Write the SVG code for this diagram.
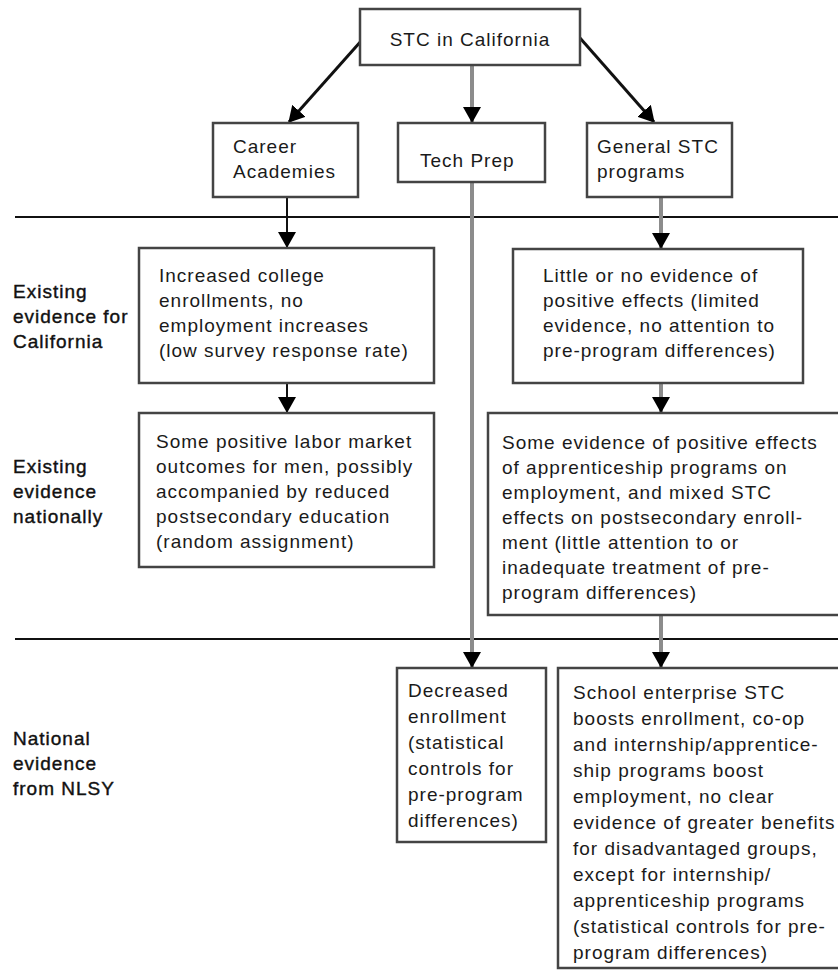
<svg xmlns="http://www.w3.org/2000/svg" width="838" height="971" viewBox="0 0 838 971">
<style>
  .box { fill: #fff; stroke: #444; stroke-width: 2.5; }
  .t { font-family: "Liberation Sans", Arial, sans-serif; font-size: 19px; letter-spacing: 1px; fill: #1a1a1a; }
  .lab { font-family: "Liberation Sans", Arial, sans-serif; font-size: 19px; letter-spacing: 1px; fill: #111; stroke: #111; stroke-width: 0.4; }
  .blk { stroke: #111; stroke-width: 2; fill: none; }
  .diag { stroke: #111; stroke-width: 3; fill: none; }
  .gry { stroke: #8c8c8c; stroke-width: 4; fill: none; }
  .rule { stroke: #111; stroke-width: 2; }
</style>
<defs>
  <marker id="ah" viewBox="0 0 16 18" refX="15" refY="9" markerWidth="16" markerHeight="18" orient="auto" markerUnits="userSpaceOnUse">
    <path d="M0,0 L16,9 L0,18 z" fill="#000"/>
  </marker>
</defs>
<rect width="838" height="971" fill="#fff"/>

<g id="rules">
  <line class="rule" x1="15" y1="217" x2="838" y2="217"/>
  <line class="rule" x1="15" y1="639" x2="838" y2="639"/>
</g>

<g id="connectors">
  <line class="diag" x1="362" y1="40" x2="289" y2="122" marker-end="url(#ah)"/>
  <line class="gry" x1="472" y1="65" x2="472" y2="122" marker-end="url(#ah)"/>
  <line class="diag" x1="580" y1="38" x2="654" y2="122" marker-end="url(#ah)"/>
  <line class="blk" x1="287" y1="197" x2="287" y2="247" marker-end="url(#ah)"/>
  <line class="blk" x1="287" y1="383" x2="287" y2="412" marker-end="url(#ah)"/>
  <line class="gry" x1="472" y1="182" x2="472" y2="667" marker-end="url(#ah)"/>
  <line class="gry" x1="661" y1="197" x2="661" y2="248" marker-end="url(#ah)"/>
  <line class="gry" x1="661" y1="383" x2="661" y2="412" marker-end="url(#ah)"/>
  <line class="gry" x1="661" y1="615" x2="661" y2="667" marker-end="url(#ah)"/>
</g>

<g id="labels">
  <text class="lab" x="13" y="298"><tspan x="13" y="298">Existing</tspan><tspan x="13" y="323">evidence for</tspan><tspan x="13" y="348">California</tspan></text>
  <text class="lab" x="13" y="473"><tspan x="13" y="473">Existing</tspan><tspan x="13" y="498">evidence</tspan><tspan x="13" y="523">nationally</tspan></text>
  <text class="lab" x="13" y="745"><tspan x="13" y="745">National</tspan><tspan x="13" y="770">evidence</tspan><tspan x="13" y="795">from NLSY</tspan></text>
</g>

<g id="stc">
  <rect class="box" x="360" y="9" width="220" height="56"/>
  <text class="t" x="470" y="46" text-anchor="middle">STC in California</text>
</g>

<g id="career">
  <rect class="box" x="213" y="123" width="145" height="74"/>
  <text class="t"><tspan x="233" y="153">Career</tspan><tspan x="233" y="178">Academies</tspan></text>
</g>

<g id="techprep">
  <rect class="box" x="398" y="123" width="147" height="59"/>
  <text class="t" x="420" y="167">Tech Prep</text>
</g>

<g id="general">
  <rect class="box" x="587" y="123" width="145" height="74"/>
  <text class="t"><tspan x="597" y="153">General STC</tspan><tspan x="597" y="178">programs</tspan></text>
</g>

<g id="ca-california">
  <rect class="box" x="139" y="248" width="295" height="135"/>
  <text class="t"><tspan x="159" y="282">Increased college</tspan><tspan x="159" y="307">enrollments, no</tspan><tspan x="159" y="332">employment increases</tspan><tspan x="159" y="357">(low survey response rate)</tspan></text>
</g>

<g id="ca-national">
  <rect class="box" x="139" y="413" width="295" height="154"/>
  <text class="t"><tspan x="156" y="448">Some positive labor market</tspan><tspan x="156" y="473">outcomes for men, possibly</tspan><tspan x="156" y="498">accompanied by reduced</tspan><tspan x="156" y="523">postsecondary education</tspan><tspan x="156" y="548">(random assignment)</tspan></text>
</g>

<g id="gen-california">
  <rect class="box" x="513" y="249" width="290" height="134"/>
  <text class="t"><tspan x="543" y="282">Little or no evidence of</tspan><tspan x="543" y="307">positive effects (limited</tspan><tspan x="543" y="332">evidence, no attention to</tspan><tspan x="543" y="357">pre-program differences)</tspan></text>
</g>

<g id="gen-national">
  <rect class="box" x="488" y="413" width="355" height="202"/>
  <text class="t"><tspan x="502" y="449">Some evidence of positive effects</tspan><tspan x="502" y="474">of apprenticeship programs on</tspan><tspan x="502" y="499">employment, and mixed STC</tspan><tspan x="502" y="524">effects on postsecondary enroll-</tspan><tspan x="502" y="549">ment (little attention to or</tspan><tspan x="502" y="574">inadequate treatment of pre-</tspan><tspan x="502" y="599">program differences)</tspan></text>
</g>

<g id="tp-nlsy">
  <rect class="box" x="397" y="668" width="149" height="174"/>
  <text class="t"><tspan x="408" y="697">Decreased</tspan><tspan x="408" y="723">enrollment</tspan><tspan x="408" y="749">(statistical</tspan><tspan x="408" y="775">controls for</tspan><tspan x="408" y="801">pre-program</tspan><tspan x="408" y="827">differences)</tspan></text>
</g>

<g id="gen-nlsy">
  <rect class="box" x="558" y="668" width="285" height="300"/>
  <text class="t"><tspan x="573" y="699">School enterprise STC</tspan><tspan x="573" y="725">boosts enrollment, co-op</tspan><tspan x="573" y="751">and internship/apprentice-</tspan><tspan x="573" y="777">ship programs boost</tspan><tspan x="573" y="803">employment, no clear</tspan><tspan x="573" y="829">evidence of greater benefits</tspan><tspan x="573" y="855">for disadvantaged groups,</tspan><tspan x="573" y="881">except for internship/</tspan><tspan x="573" y="907">apprenticeship programs</tspan><tspan x="573" y="933">(statistical controls for pre-</tspan><tspan x="573" y="959">program differences)</tspan></text>
</g>
</svg>
